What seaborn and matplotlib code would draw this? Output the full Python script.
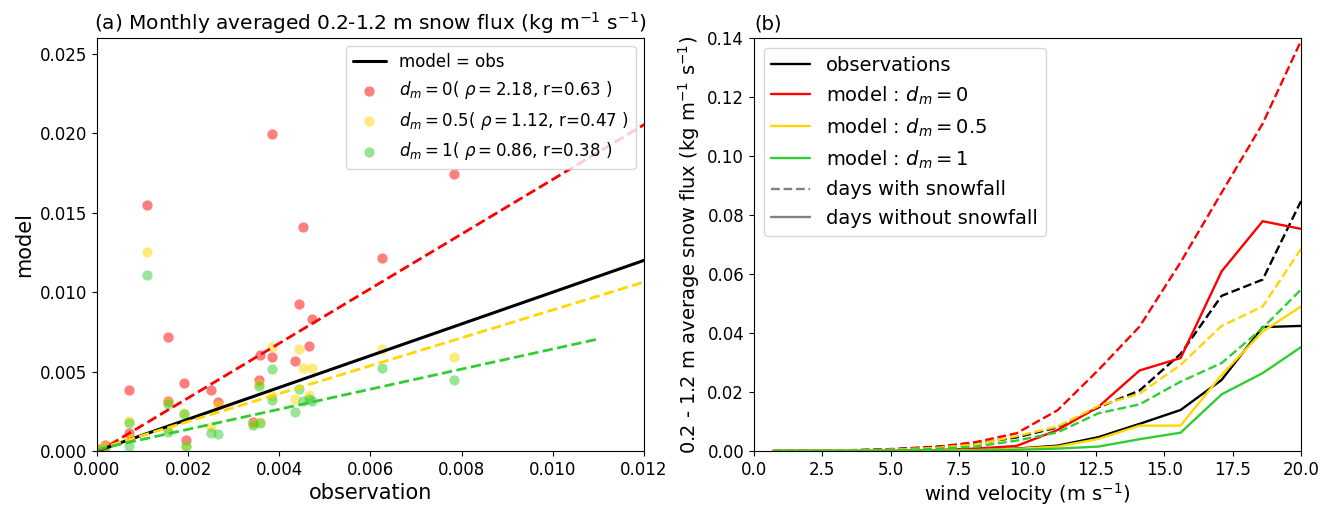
import numpy as np
import pandas as pd
import matplotlib
matplotlib.use("Agg")
import matplotlib.pyplot as plt
from matplotlib.lines import Line2D
import seaborn as sns

# ---- panel (a): monthly averaged snow flux, model vs observation ----
obs = [0.00003, 0.00018, 0.0007, 0.0007, 0.0011, 0.00155, 0.00155, 0.0019,
       0.00196, 0.0025, 0.00266, 0.00342, 0.00355, 0.00358, 0.00385, 0.00383,
       0.00434, 0.00444, 0.00451, 0.00472, 0.00466, 0.00626, 0.00784]
flux_dm0 = [0.0001, 0.00035, 0.00386, 0.00113, 0.0155, 0.0072, 0.00315, 0.00426,
            0.00067, 0.00382, 0.00307, 0.00185, 0.00445, 0.00603, 0.01994, 0.00592,
            0.00567, 0.00924, 0.01412, 0.00831, 0.00661, 0.01215, 0.01742]
flux_dm05 = [0.0001, 0.0003, 0.0019, 0.0009, 0.0125, 0.0014, 0.0031, 0.0024,
             0.0003, 0.00153, 0.0029, 0.0017, 0.0042, 0.0018, 0.00657, 0.00346,
             0.00327, 0.00642, 0.00523, 0.00521, 0.00353, 0.0064, 0.00594]
flux_dm1 = [0.00005, 0.0001, 0.00176, 0.00031, 0.01106, 0.00122, 0.00296, 0.00233,
            0.00033, 0.00115, 0.00107, 0.00164, 0.00407, 0.00174, 0.00514, 0.00319,
            0.00246, 0.00392, 0.00317, 0.00317, 0.0033, 0.00525, 0.00445]

scatter_labels = [r"$d_m=0$( $\rho=2.18$, r=0.63 )",
                  r"$d_m=0.5$( $\rho=1.12$, r=0.47 )",
                  r"$d_m=1$( $\rho=0.86$, r=0.38 )"]
# linear fits (slope, intercept, x end)
fit_slope = [1.72, 0.878, 0.632]
fit_icpt = [-0.0001, 0.0001, 0.0001]
fit_xend = [0.013, 0.013, 0.011]

# ---- panel (b): snow flux vs wind velocity ----
wind = [0.7, 2.2, 3.7, 5.2, 6.6, 8.1, 9.6, 11.1, 12.6, 14.1, 15.6, 17.1, 18.6, 20.0]
obs_snow = [0.0, 0.0001, 0.0003, 0.0007, 0.0014, 0.0025, 0.0046, 0.0080,
            0.0148, 0.0205, 0.0329, 0.0526, 0.0581, 0.0847]
obs_nosnow = [0.0, 0.0, 0.0, 0.0, 0.0001, 0.0003, 0.0008, 0.0018,
              0.0047, 0.0092, 0.0139, 0.0241, 0.0420, 0.0424]
dm0_snow = [0.0, 0.0001, 0.0002, 0.0006, 0.0013, 0.0030, 0.0060, 0.0138,
            0.0275, 0.0422, 0.0640, 0.0876, 0.1110, 0.1390]
dm0_nosnow = [0.0, 0.0, 0.0, 0.0001, 0.0003, 0.0008, 0.0017, 0.0071,
              0.0150, 0.0273, 0.0315, 0.0609, 0.0779, 0.0753]
dm05_snow = [0.0, 0.0001, 0.0002, 0.0005, 0.0010, 0.0022, 0.0050, 0.0083,
             0.0153, 0.0194, 0.0292, 0.0424, 0.0490, 0.0685]
dm05_nosnow = [0.0, 0.0, 0.0, 0.0, 0.0001, 0.0003, 0.0007, 0.0015,
               0.0041, 0.0086, 0.0086, 0.0258, 0.0405, 0.0490]
dm1_snow = [0.0, 0.0, 0.0001, 0.0003, 0.0007, 0.0015, 0.0035, 0.0063,
            0.0128, 0.0158, 0.0235, 0.0298, 0.0417, 0.0547]
dm1_nosnow = [0.0, 0.0, 0.0, 0.0, 0.0, 0.0002, 0.0004, 0.0008,
              0.0015, 0.0040, 0.0062, 0.0192, 0.0264, 0.0352]

colors = ["red", "gold", "limegreen"]
sources = ["obs", "dm0", "dm05", "dm1"]
line_colors = {"obs": "black", "dm0": "red", "dm05": "gold", "dm1": "limegreen"}
line_labels = ["observations", r"model : $d_m=0$", r"model : $d_m=0.5$",
               r"model : $d_m=1$"]

sns.set_style("ticks", {"axes.edgecolor": "black", "xtick.color": "black",
                        "ytick.color": "black", "text.color": "black",
                        "axes.labelcolor": "black"})
plt.rcParams["font.family"] = ["DejaVu Sans"]

fig, (ax1, ax2) = plt.subplots(1, 2, figsize=(13.32, 5.07), dpi=100)
fig.subplots_adjust(left=0.0728, right=0.9767, bottom=0.1105, top=0.925, wspace=0.201)

# panel (a)
xline = np.linspace(0, 0.013, 10)
ax1.plot(xline, xline, color="black", lw=2.2, label="model = obs")
for vals, col, lab in zip([flux_dm0, flux_dm05, flux_dm1], colors, scatter_labels):
    sns.scatterplot(x=obs, y=vals, color=col, alpha=0.5, s=55, linewidth=0,
                    label=lab, ax=ax1)
for col, k, b, xe in zip(colors, fit_slope, fit_icpt, fit_xend):
    xf = np.linspace(0, xe, 10)
    ax1.plot(xf, k * xf + b, color=col, lw=2, ls="--")
ax1.set_xlim(0, 0.012)
ax1.set_ylim(0, 0.026)
ax1.set_xticks(np.arange(0, 0.0121, 0.002))
ax1.set_yticks(np.arange(0, 0.0251, 0.005))
ax1.tick_params(labelsize=12)
ax1.set_xlabel("observation", fontsize=15, labelpad=3)
ax1.set_ylabel("model", fontsize=15)
ax1.set_title(r"(a) Monthly averaged 0.2-1.2 m snow flux (kg m$^{-1}$ s$^{-1}$)",
              fontsize=14.5)
ax1.legend(loc="upper right", fontsize=12)

# panel (b)
series = {("obs", "snow"): obs_snow, ("obs", "nosnow"): obs_nosnow,
          ("dm0", "snow"): dm0_snow, ("dm0", "nosnow"): dm0_nosnow,
          ("dm05", "snow"): dm05_snow, ("dm05", "nosnow"): dm05_nosnow,
          ("dm1", "snow"): dm1_snow, ("dm1", "nosnow"): dm1_nosnow}
rows = []
for (src, sf), vals in series.items():
    for w, v in zip(wind, vals):
        rows.append({"wind": w, "flux": v, "source": src, "snowfall": sf})
df = pd.DataFrame(rows)

sns.lineplot(data=df, x="wind", y="flux", hue="source", style="snowfall",
             palette=line_colors, dashes={"snow": (3.7, 1.6), "nosnow": ""},
             hue_order=sources, lw=1.7, errorbar=None, legend=False, ax=ax2)
ax2.set_xlim(0, 20)
ax2.set_ylim(0, 0.14)
ax2.set_xticks(np.arange(0, 20.1, 2.5))
ax2.set_yticks(np.arange(0, 0.141, 0.02))
ax2.tick_params(labelsize=12)
ax2.set_xlabel(r"wind velocity (m s$^{-1}$)", fontsize=14, labelpad=2)
ax2.set_ylabel(r"0.2 - 1.2 m average snow flux (kg m$^{-1}$ s$^{-1}$)", fontsize=14)
ax2.set_title("(b)", loc="left", fontsize=14)

handles = [Line2D([], [], color=line_colors[s], lw=1.7) for s in sources]
handles += [Line2D([], [], color="gray", lw=1.7, ls="--"),
            Line2D([], [], color="gray", lw=1.7)]
labels = line_labels + ["days with snowfall", "days without snowfall"]
ax2.legend(handles, labels, loc="upper left", fontsize=14)

plt.savefig("out.png", dpi=100)
